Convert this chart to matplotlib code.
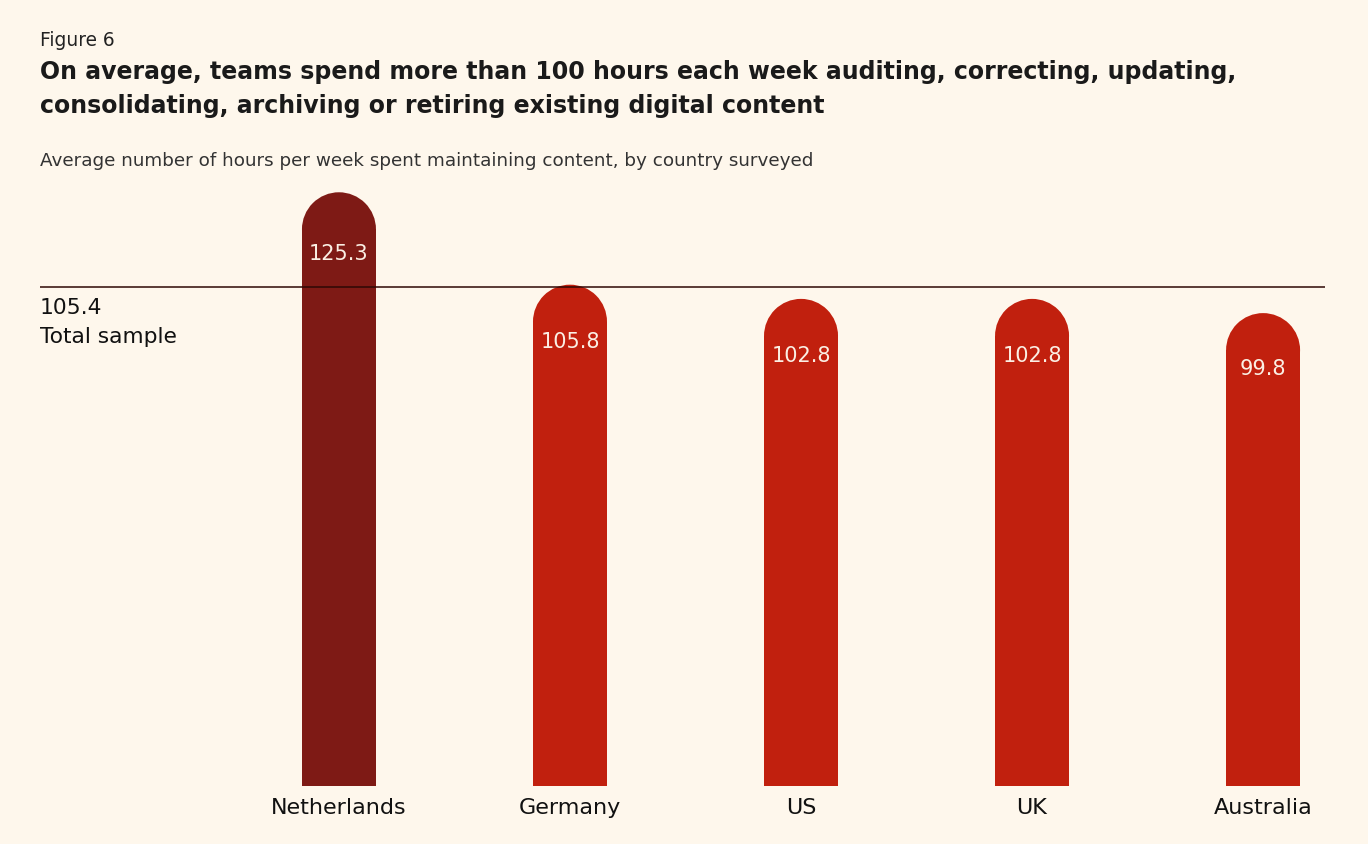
import matplotlib
matplotlib.use("Agg")
import matplotlib.pyplot as plt
from matplotlib.patches import Rectangle, Ellipse

countries = ["Netherlands", "Germany", "US", "UK", "Australia"]
hours = [125.3, 105.8, 102.8, 102.8, 99.8]
total_sample = 105.4
highlight = "Netherlands"

BG = "#FEF7EC"
DARK = "#7E1A15"
RED = "#C1200E"
LABEL_WHITE = "#FBEFE4"

plt.rcParams['font.family'] = ['DejaVu Sans']

W, H = 1368, 844
fig = plt.figure(figsize=(W / 100, H / 100), dpi=100, facecolor=BG)

# axes in pixel coordinates
ax_left, ax_right = 40, 1325
ax_bottom_px, ax_top_px = 786, 170
ax = fig.add_axes([ax_left / W, (H - ax_bottom_px) / H,
                   (ax_right - ax_left) / W, (ax_bottom_px - ax_top_px) / H])
ax.set_facecolor(BG)

ymax = 130
ax.set_ylim(0, ymax)
xmin, xmax = -1.294, 4.268
ax.set_xlim(xmin, xmax)

px_per_x = (ax_right - ax_left) / (xmax - xmin)
px_per_y = (ax_bottom_px - ax_top_px) / ymax
bar_w_px = 74
bw = bar_w_px / px_per_x
r_y = (bar_w_px / 2) / px_per_y

for i, (c, v) in enumerate(zip(countries, hours)):
    col = DARK if c == highlight else RED
    ax.add_patch(Rectangle((i - bw / 2, 0), bw, v - r_y, facecolor=col,
                           edgecolor='none', zorder=2))
    ax.add_patch(Ellipse((i, v - r_y), bw, 2 * r_y, facecolor=col,
                         edgecolor='none', zorder=2))
    off_px = 57 + 0.2 * (v - 104)
    ax.text(i, v - off_px / px_per_y, f"{v:.1f}", ha='center', va='center',
            color=LABEL_WHITE, fontsize=15, zorder=4)

ax.axhline(total_sample, color="#2E0805", lw=1.1, zorder=3)

ax.text(xmin, total_sample - 21 / px_per_y, f"{total_sample:.1f}",
        ha='left', va='center', fontsize=15.7, color="#111111")
ax.text(xmin, total_sample - 50 / px_per_y, "Total sample",
        ha='left', va='center', fontsize=15.7, color="#111111")

ax.set_xticks(range(len(countries)))
ax.set_xticklabels(countries, fontsize=16, color="#111111")
ax.tick_params(axis='x', length=0, pad=9)
ax.set_yticks([])
for s in ax.spines.values():
    s.set_visible(False)

fig.text(40 / W, 1 - 40 / H, "Figure 6", fontsize=13.4, color="#222222",
         ha='left', va='center')
fig.text(40 / W, 1 - 72 / H,
         "On average, teams spend more than 100 hours each week auditing, correcting, updating,",
         fontsize=17, fontweight='bold', color="#1A1A1A", ha='left', va='center')
fig.text(40 / W, 1 - 106 / H,
         "consolidating, archiving or retiring existing digital content",
         fontsize=17, fontweight='bold', color="#1A1A1A", ha='left', va='center')
fig.text(40 / W, 1 - 161 / H,
         "Average number of hours per week spent maintaining content, by country surveyed",
         fontsize=13.2, color="#333333", ha='left', va='center')

fig.savefig("out.png", dpi=100, facecolor=BG)
